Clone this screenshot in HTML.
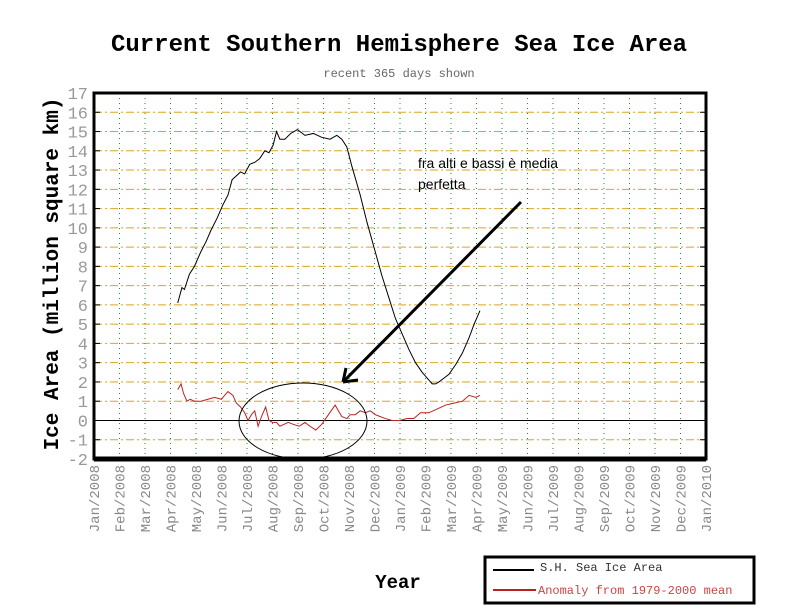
<!DOCTYPE html>
<html><head><meta charset="utf-8"><style>
body{margin:0;background:#fff}
svg{display:block;font-family:"Liberation Mono",monospace}
</style></head><body>
<svg id="chart" width="792" height="612" viewBox="0 0 792 612" xmlns="http://www.w3.org/2000/svg">
<text x="399" y="51" text-anchor="middle" font-size="24" font-weight="bold" fill="#000">Current Southern Hemisphere Sea Ice Area</text>
<text x="399" y="77" text-anchor="middle" font-size="12" fill="#666">recent 365 days shown</text>
<text transform="translate(58,274) rotate(-90)" text-anchor="middle" font-size="21" font-weight="bold" fill="#000">Ice Area (million square km)</text>
<text x="398" y="588" text-anchor="middle" font-size="19" font-weight="bold" fill="#000">Year</text>
<g id="grid"></g><g id="series"></g><g id="axes"></g>
<ellipse cx="303" cy="421" rx="64" ry="38" fill="none" stroke="#000" stroke-width="1"/>
<line x1="521" y1="202" x2="343" y2="382" stroke="#000" stroke-width="3"/>
<path d="M343 382 L346 368 M343 382 L358 380" stroke="#000" stroke-width="3" fill="none"/>
<text font-family="Liberation Sans,sans-serif" font-size="14" fill="#000"><tspan x="418" y="168">fra alti e bassi è media</tspan><tspan x="418" y="189">perfetta</tspan></text>
<g>
<rect x="485" y="557" width="269" height="46" fill="#fff" stroke="#000" stroke-width="3"/>
<line x1="493" y1="570" x2="534" y2="570" stroke="#000" stroke-width="2"/>
<text x="540" y="571" font-size="12" fill="#333">S.H. Sea Ice Area</text>
<line x1="493" y1="590" x2="536" y2="590" stroke="#b22" stroke-width="2"/>
<text x="538" y="594" font-size="12" fill="#c44">Anomaly from 1979-2000 mean</text>
</g>
</svg>
<script>
const months=["Jan/2008","Feb/2008","Mar/2008","Apr/2008","May/2008","Jun/2008","Jul/2008","Aug/2008","Sep/2008","Oct/2008","Nov/2008","Dec/2008","Jan/2009","Feb/2009","Mar/2009","Apr/2009","May/2009","Jun/2009","Jul/2009","Aug/2009","Sep/2009","Oct/2009","Nov/2009","Dec/2009","Jan/2010"];
const yTicks=[-2,-1,0,1,2,3,4,5,6,7,8,9,10,11,12,13,14,15,16,17];
const iceDays=[100,105,108,114,120,127,134,140,147,154,160,165,170,175,180,186,192,198,204,209,214,218,222,228,235,243,252,262,272,282,290,296,302,308,318,326,335,344,352,360,368,376,384,392,400,404,408,412,418,424,432,440,448,454,461];
const iceVals=[6.1,6.9,6.8,7.6,8.0,8.7,9.3,9.9,10.5,11.2,11.7,12.5,12.7,12.9,12.8,13.3,13.4,13.6,14.0,13.9,14.3,15.0,14.6,14.6,14.9,15.1,14.8,14.9,14.7,14.6,14.8,14.6,14.2,13.2,11.7,10.3,8.9,7.5,6.4,5.3,4.5,3.7,3.0,2.5,2.1,1.9,1.9,2.0,2.2,2.4,2.9,3.5,4.3,5.0,5.7];
const anomDays=[100,104,107,111,115,120,128,136,144,152,160,166,170,175,180,184,188,192,196,200,205,209,213,218,222,227,232,238,245,252,258,265,272,280,288,296,302,306,312,318,324,330,336,342,348,356,365,374,382,390,400,410,420,430,440,448,456,461];
const anomVals=[1.6,1.9,1.4,1.0,1.1,1.0,1.0,1.1,1.2,1.1,1.5,1.3,0.9,0.7,0.4,0.0,0.3,0.5,-0.3,0.2,0.7,0.0,-0.1,-0.1,-0.3,-0.2,-0.1,-0.2,-0.3,-0.1,-0.3,-0.5,-0.2,0.3,0.8,0.2,0.1,0.3,0.3,0.5,0.4,0.5,0.3,0.2,0.1,0.0,0.0,0.1,0.1,0.4,0.4,0.6,0.8,0.9,1.0,1.3,1.2,1.3];
const X0=94,X1=706,Y0=459,Y1=93,ns="http://www.w3.org/2000/svg";
const xScale=d=>X0+d*(X1-X0)/731;
const yScale=v=>Y0-(v+2)*(Y0-Y1)/19;
const monthX=i=>X0+i*(X1-X0)/24;
function mk(t,a,p){const e=document.createElementNS(ns,t);for(const k in a)e.setAttribute(k,a[k]);p.appendChild(e);return e;}
const grid=document.getElementById('grid'),axes=document.getElementById('axes'),ser=document.getElementById('series');
yTicks.forEach(v=>{
 const y=yScale(v);
 if(v>-2&&v<17){const l=mk('line',{x1:X0,x2:X1,y1:y,y2:y,stroke:v===0?'#000':'#d9a520','stroke-width':1,'stroke-dasharray':v===0?'':'8,3,2,3'},grid);
 
 }
 const t=mk('text',{x:88,y:y+6,'text-anchor':'end','font-size':17,fill:'#999'},axes);t.textContent=v;
 
 
 mk('line',{x1:X0,x2:X0+6,y1:y,y2:y,stroke:'#000'},axes);
 mk('line',{x1:X1-6,x2:X1,y1:y,y2:y,stroke:'#000'},axes);
});
months.forEach((m,i)=>{
 const x=monthX(i);
 if(i>0&&i<24){const l=mk('line',{x1:x,x2:x,y1:Y1,y2:Y0,stroke:'#2a8a2a','stroke-width':1,'stroke-dasharray':'1,4'},grid);
 
 }
 const t=mk('text',{transform:`translate(${x+5},${Y0+6}) rotate(-90)`,'text-anchor':'end','font-size':14,fill:'#888'},axes);t.textContent=m;
 
 
});
const fr=mk('path',{d:`M${X0} ${Y1}H${X1}V${Y0}H${X0}Z`,fill:'none',stroke:'#000','stroke-width':3},axes);


mk('line',{x1:X0,x2:X1,y1:Y0,y2:Y0,stroke:'#000','stroke-width':5},axes);
const ice=mk('polyline',{points:iceDays.map((d,i)=>xScale(d)+','+yScale(iceVals[i])).join(' '),fill:'none',stroke:'#000','stroke-width':1},ser);


const an=mk('polyline',{points:anomDays.map((d,i)=>xScale(d)+','+yScale(anomVals[i])).join(' '),fill:'none',stroke:'#b22','stroke-width':1},ser);


</script>
</body></html>
